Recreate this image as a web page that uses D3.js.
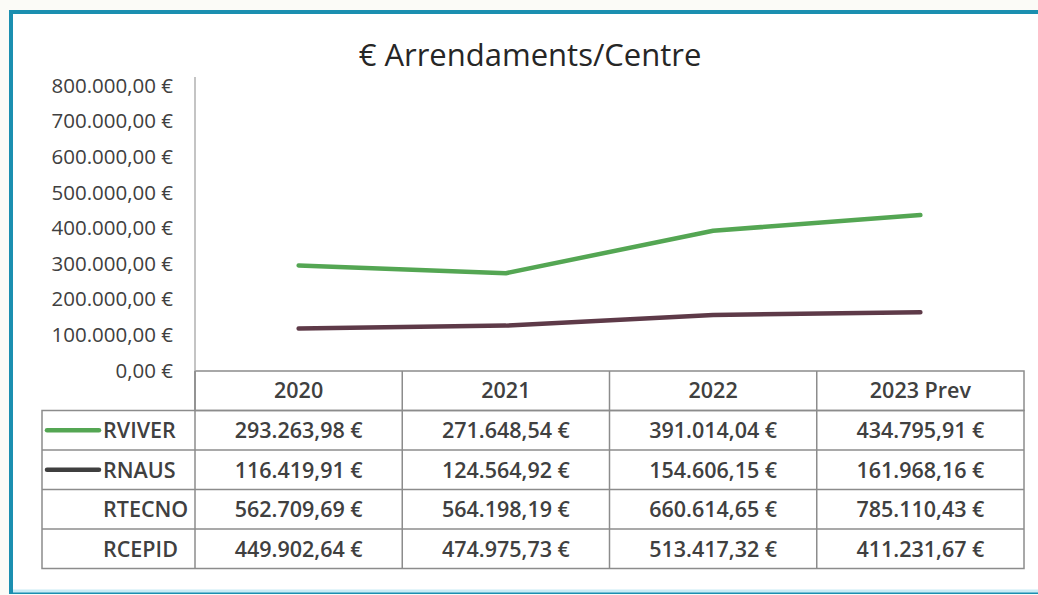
<!DOCTYPE html>
<html>
<head>
<meta charset="utf-8">
<script src="https://cdn.jsdelivr.net/npm/d3@7"></script>
<style>
  html, body { margin: 0; padding: 0; background: #fbfbf7; }
  svg { display: block; }
</style>
</head>
<body>
<div id="chart"></div>
<script>
const years = ['2020', '2021', '2022', '2023 Prev']
const seriesNames = ['RVIVER', 'RNAUS', 'RTECNO', 'RCEPID']
const rviver = [293263.98, 271648.54, 391014.04, 434795.91]
const rnaus = [116419.91, 124564.92, 154606.15, 161968.16]
const rtecno = [562709.69, 564198.19, 660614.65, 785110.43]
const rcepid = [449902.64, 474975.73, 513417.32, 411231.67]
const yTicks = [0, 100000, 200000, 300000, 400000, 500000, 600000, 700000, 800000]

// only the first two series are plotted, all four are in the data table
const plotted = [
  { name: 'RVIVER', values: rviver, color: '#54a653' },
  { name: 'RNAUS', values: rnaus, color: '#5e3a48' }
]
const rows = [
  { name: 'RVIVER', values: rviver, key: '#54a653' },
  { name: 'RNAUS', values: rnaus, key: '#3f3f3f' },
  { name: 'RTECNO', values: rtecno, key: null },
  { name: 'RCEPID', values: rcepid, key: null }
]

const width = 1038
const height = 595
const font = '"Open Sans", sans-serif'
const textColor = '#404040'
const gridColor = '#8c8c8c'
const tableSize = '21.5px'

const svg = d3.select('#chart').append('svg')
  .attr('width', width)
  .attr('height', height)

// 外框
svg.append('rect')
  .attr('x', 11).attr('y', 12)
  .attr('width', width + 20).attr('height', 580)
  .attr('fill', '#ffffff')
  .attr('stroke', '#1b8fb0')
  .attr('stroke-width', 4)

svg.append('line')
  .attr('x1', 13).attr('x2', width)
  .attr('y1', 591).attr('y2', 591)
  .attr('stroke', '#c9ecf5').attr('stroke-width', 3)

// 标题
svg.append('text')
  .attr('x', 530).attr('y', 66)
  .attr('text-anchor', 'middle')
  .style('font-family', font)
  .style('font-size', '31px')
  .attr('fill', '#262626')
  .text('€ Arrendaments/Centre')

const x = d3.scaleBand().domain(years).range([195, 1024])
const y = d3.scaleLinear().domain([0, 800000]).range([370, 85])

const fmt = d3.formatLocale({ decimal: ',', thousands: '.', grouping: [3], currency: ['', ' €'] })
const money = fmt.format('$,.2f')

// y轴
const yAxis = d3.axisLeft(y)
  .tickValues(yTicks)
  .tickSize(0)
  .tickPadding(22)
  .tickFormat(money)

const gy = svg.append('g')
  .attr('transform', 'translate(195,0)')
  .call(yAxis)
gy.select('.domain').attr('stroke', '#b0b0b0').attr('stroke-width', 1.5)
  .attr('d', `M0,${y(800000) - 8}V${y(0)}`)
gy.selectAll('text')
  .style('font-family', font)
  .style('font-size', '20.5px')
  .attr('fill', textColor)
  .attr('dy', '0.35em')

// 折线
const line = d3.line()
  .x((d, i) => x(years[i]) + x.bandwidth() / 2)
  .y((d) => y(d))

svg.append('g')
  .selectAll('path')
  .data(plotted)
  .join('path')
  .attr('d', (d) => line(d.values))
  .attr('fill', 'none')
  .attr('stroke', (d) => d.color)
  .attr('stroke-width', 4.5)
  .attr('stroke-linecap', 'round')
  .attr('stroke-linejoin', 'round')

// 数据表
const headerTop = 371
const rowH = 39.5
const tableLeft = 42
const table = svg.append('g')
  .attr('stroke', gridColor)
  .attr('stroke-width', 1.5)
  .attr('fill', 'none')

// header row
table.append('rect')
  .attr('x', 195).attr('y', headerTop)
  .attr('width', 1024 - 195).attr('height', rowH)
// body
table.append('rect')
  .attr('x', tableLeft).attr('y', headerTop + rowH)
  .attr('width', 1024 - tableLeft).attr('height', rowH * rows.length)

table.selectAll('line.h')
  .data(d3.range(1, rows.length))
  .join('line')
  .attr('class', 'h')
  .attr('x1', tableLeft).attr('x2', 1024)
  .attr('y1', (d) => headerTop + rowH * (d + 1))
  .attr('y2', (d) => headerTop + rowH * (d + 1))

table.selectAll('line.v')
  .data(years)
  .join('line')
  .attr('class', 'v')
  .attr('x1', (d) => x(d)).attr('x2', (d) => x(d))
  .attr('y1', headerTop).attr('y2', headerTop + rowH * (rows.length + 1))

svg.append('g')
  .selectAll('text')
  .data(years)
  .join('text')
  .attr('x', (d) => x(d) + x.bandwidth() / 2)
  .attr('y', headerTop + rowH / 2)
  .attr('dy', '0.36em')
  .attr('text-anchor', 'middle')
  .style('font-family', font)
  .style('font-size', tableSize)
  .style('font-weight', 600)
  .attr('fill', textColor)
  .text((d) => d)

const rowG = svg.append('g')
  .selectAll('g')
  .data(rows)
  .join('g')
  .attr('transform', (d, i) => `translate(0,${headerTop + rowH * (i + 1) + rowH / 2})`)

rowG.filter((d) => d.key)
  .append('line')
  .attr('x1', 47).attr('x2', 99)
  .attr('y1', 0).attr('y2', 0)
  .attr('stroke', (d) => d.key)
  .attr('stroke-width', 4.5)
  .attr('stroke-linecap', 'round')

rowG.append('text')
  .attr('x', 103)
  .attr('dy', '0.36em')
  .style('font-family', font)
  .style('font-size', tableSize)
  .style('font-weight', 600)
  .attr('fill', textColor)
  .text((d) => d.name)

rowG.selectAll('text.v')
  .data((d) => d.values)
  .join('text')
  .attr('class', 'v')
  .attr('x', (d, i) => x(years[i]) + x.bandwidth() / 2)
  .attr('dy', '0.36em')
  .attr('text-anchor', 'middle')
  .style('font-family', font)
  .style('font-size', tableSize)
  .style('font-weight', 600)
  .attr('fill', textColor)
  .text((d) => money(d))
</script>
</body>
</html>
